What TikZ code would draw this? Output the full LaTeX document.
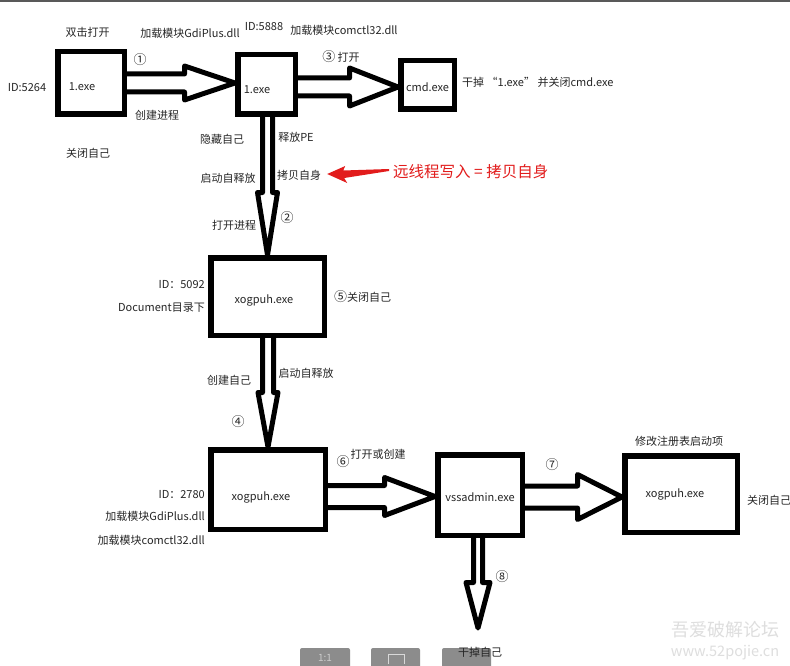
\documentclass[tikz,border=0pt]{standalone}
\usepackage{fontspec}
\setmainfont{Noto Sans CJK SC}
\usetikzlibrary{calc}
% horizontal hollow block arrow: from, to, head length, shaft half width, head half width
\newcommand\hblk[5]{\draw[blk] ($(#1 |- #2)+(0,-#4)$) -- ($(#2)+(-#3,-#4)$) -- ($(#2)+(-#3,-#5)$) -- (#2) -- ($(#2)+(-#3,#5)$) -- ($(#2)+(-#3,#4)$) -- ($(#1 |- #2)+(0,#4)$);}
% vertical hollow block arrow (downwards)
\newcommand\vblk[5]{\draw[blk] ($(#2 |- #1)+(-#4,0)$) -- ($(#2)+(-#4,-#3)$) -- ($(#2)+(-#5,-#3)$) -- (#2) -- ($(#2)+(#5,-#3)$) -- ($(#2)+(#4,-#3)$) -- ($(#2 |- #1)+(#4,0)$);}
\newcommand\cnum[1]{{\fontsize{13}{13}\selectfont #1}}
\definecolor{redtxt}{RGB}{226,28,28}
\begin{document}
\begin{tikzpicture}[x=1pt,y=-1pt,
  box/.style={draw=black,line width=5.5pt,inner sep=0pt},
  blk/.style={draw=black,line width=5pt,line join=round},
  txt/.style={inner sep=0pt,font=\fontsize{11}{13}\selectfont,text=black!85},
  btn/.style={fill=black!45,rounded corners=2pt}]
\fill[white] (0,0) rectangle (790,666);
\useasboundingbox (0,0) rectangle (790,666);
\draw[black!65,line width=2pt] (0,1) -- (790,1);

% boxes
\node[box,minimum width=66.5pt,minimum height=62.5pt] (n1) at (91,83) {};
\node[box,minimum width=57.5pt,minimum height=59.5pt] (n2) at (266.5,84.5) {};
\node[box,minimum width=53.5pt,minimum height=48.5pt] (cmd) at (427.5,85) {};
\node[box,minimum width=113.5pt,minimum height=77.5pt] (x1) at (267.5,296.5) {};
\node[box,minimum width=114.5pt,minimum height=79.5pt] (x2) at (268,489.5) {};
\node[box,minimum width=84.5pt,minimum height=80.5pt] (vss) at (480,495) {};
\node[box,minimum width=112.5pt,minimum height=76.5pt] (x3) at (681,494) {};

% box texts
\node[txt] (t1) at (82,87) {1.exe};
\node[txt] (t2) at (257,90) {1.exe};
\node[txt] (t3) at (427.5,87) {cmd.exe};
\node[txt] (t4) at (264,300) {xogpuh.exe};
\node[txt] (t5) at (261,497) {xogpuh.exe};
\node[txt] (t6) at (480,497) {vssadmin.exe};
\node[txt] (t7) at (675,494) {xogpuh.exe};

% arrow end points
\coordinate (a1e) at ([yshift=1.5pt]n2.west);
\coordinate (a2e) at ([yshift=-2pt]cmd.west);
\coordinate (a6e) at ([yshift=-1.5pt]vss.west);
\coordinate (a7e) at ([yshift=-3pt]x3.west);
\coordinate (a8e) at ($(vss.south)+(-2,90)$);

% block arrows
\hblk{n1.east}{a1e}{50.5}{9}{17}
\hblk{n2.east}{a2e}{48.5}{9}{19}
\vblk{n2.south}{x1.north}{62.5}{5}{10}
\vblk{x1.south}{x2.north}{54.5}{5.5}{10}
\hblk{x2.east}{a6e}{50.5}{11}{19}
\hblk{vss.east}{a7e}{44.5}{11}{22.5}
\vblk{vss.south}{a8e}{45.5}{4.5}{12}

% labels
\node[txt] (l1) at (87.5,32) {双击打开};
\node[txt] (l2) at (190,33) {加载模块GdiPlus.dll};
\node[txt] (l3) at (264,27) {ID:5888};
\node[txt] (l4) at (344,30) {加载模块comctl32.dll};
\node[txt] (l5) at (341,57) {\cnum{③} 打开};
\node[txt,anchor=west] (l6) at (462,82) {干掉 “1.exe” 并关闭cmd.exe};
\node[txt] (l7) at (27,88) {ID:5264};
\node[txt] (l8) at (140,60) {\cnum{①}};
\node[txt] (l9) at (157,115) {创建进程};
\node[txt] (l10) at (88,153) {关闭自己};
\node[txt] (l11) at (222,139) {隐藏自己};
\node[txt] (l12) at (296,137) {释放PE};
\node[txt] (l13) at (299,175) {拷贝自身};
\node[txt] (l14) at (228,178) {启动自释放};
\node[txt] (l15) at (287,218) {\cnum{②}};
\node[txt] (l16) at (234,225) {打开进程};
\node[inner sep=0pt,anchor=west,font=\fontsize{15.5}{17}\selectfont,text=redtxt] (red) at (393,172) {远线程写入 = 拷贝自身};
\node[txt,anchor=east] (l17) at (205,285) {ID：5092};
\node[txt,anchor=east] (l18) at (205,308) {Document目录下};
\node[txt,anchor=west] (l19) at (334,297) {\cnum{⑤}关闭自己};
\node[txt] (l20) at (229,380) {创建自己};
\node[txt] (l21) at (306,373) {启动自释放};
\node[txt] (l22) at (238,422) {\cnum{④}};
\node[txt,anchor=east] (l23) at (205,495) {ID：2780};
\node[txt,anchor=east] (l24) at (205,516) {加载模块GdiPlus.dll};
\node[txt,anchor=east] (l25) at (205,540) {加载模块comctl32.dll};
\node[txt] (l26) at (343,462) {\cnum{⑥}};
\node[txt] (l27) at (378,454) {打开或创建};
\node[txt] (l28) at (552,465) {\cnum{⑦}};
\node[txt] (l29) at (679,441) {修改注册表启动项};
\node[txt] (l30) at (769,500) {关闭自己};
\node[txt] (l31) at (502,577) {\cnum{⑧}};

% red arrow from the red text to 拷贝自身
\coordinate (rtip) at ($(l13.east)+(6,-1)$);
\fill[redtxt] (rtip) -- ($(rtip)+(18,-8)$) -- ($(rtip)+(16,-3.5)$) -- ($(red.west)+(-4,-3)$) -- ($(red.west)+(-4,-1)$) -- ($(rtip)+(17,4)$) -- ($(rtip)+(20,9)$) -- cycle;

% watermark and viewer buttons
\node[inner sep=0pt,text=black!13,font=\fontsize{18}{18}\selectfont] (wm1) at (725,630) {吾爱破解论坛};
\node[inner sep=0pt,text=black!13,font=\fontsize{14.5}{15}\selectfont] (wm2) at (725,653) {www.52pojie.cn};
\fill[btn] (300,648) rectangle (350,672);
\fill[btn] (371,648) rectangle (420,672);
\fill[btn] (442,648) rectangle (491,672);
\node[inner sep=0pt,text=black!20,font=\fontsize{10}{10}\selectfont] (b1) at (325,658) {1:1};
\draw[black!15,line width=1pt] (388,664) -- (388,654) -- (404,654) -- (404,664);

\node[txt] (l32) at (480,652) {干掉自己};
\end{tikzpicture}
\end{document}
